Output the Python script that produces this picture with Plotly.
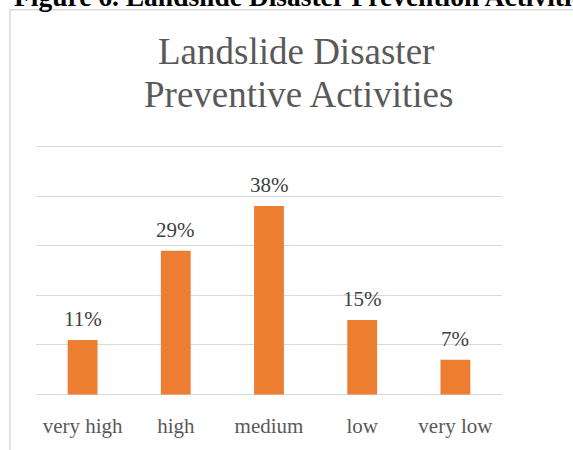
import plotly.graph_objects as go

categories = ["very high", "high", "medium", "low", "very low"]
values = [11, 29, 38, 15, 7]
labels = ["11%", "29%", "38%", "15%", "7%"]

FONT = "Liberation Serif"
W, H = 573, 450
L, R, T, B = 36, 71, 143.5, 50
PH = H - T - B
PW = W - L - R
Y0, Y1 = -0.5, 50.5

def py(px):
    # pixel row -> paper y
    return (H - B - px) / PH

def pxx(px):
    return (px - L) / PW

fig = go.Figure()
fig.add_trace(go.Bar(x=categories, y=values, marker=dict(color="#ED7D31", line=dict(width=0)),
                     hoverinfo="skip"))

for c, v, t in zip(categories, values, labels):
    fig.add_annotation(x=c, y=v, text=t, showarrow=False, yanchor="bottom", yshift=7,
                       font=dict(family=FONT, size=21, color="#404040"))

fig.add_annotation(xref="paper", yref="paper", x=pxx(296), y=py(50), text="Landslide Disaster",
                   showarrow=False, xanchor="center", yanchor="middle",
                   font=dict(family=FONT, size=37, color="#595959"))
fig.add_annotation(xref="paper", yref="paper", x=pxx(298), y=py(93), text="Preventive Activities",
                   showarrow=False, xanchor="center", yanchor="middle",
                   font=dict(family=FONT, size=37, color="#595959"))
fig.add_annotation(xref="paper", yref="paper", x=pxx(12), y=py(-6),
                   text="<b>Figure 6. Landslide Disaster Prevention Activities</b>",
                   showarrow=False, xanchor="left", yanchor="middle",
                   font=dict(family=FONT, size=27.5, color="#000000"))

fig.add_shape(type="rect", xref="paper", yref="paper", x0=pxx(10), x1=pxx(620),
              y0=py(480), y1=py(7.5), line=dict(color="#D9D9D9", width=1.5), layer="below")

fig.update_layout(
    width=W, height=H,
    margin=dict(l=L, r=R, t=T, b=B, pad=0),
    paper_bgcolor="white", plot_bgcolor="white",
    bargap=0.68, showlegend=False,
    xaxis=dict(showgrid=False, showline=False, ticks="", zeroline=False,
               ticklabelstandoff=14,
               tickfont=dict(family=FONT, size=21, color="#595959")),
    yaxis=dict(range=[Y0, Y1], dtick=10, tick0=0, showgrid=True, gridcolor="#D9D9D9",
               gridwidth=1.3, showticklabels=False, zeroline=False, showline=False, ticks=""),
)

fig.write_html("out.html")
